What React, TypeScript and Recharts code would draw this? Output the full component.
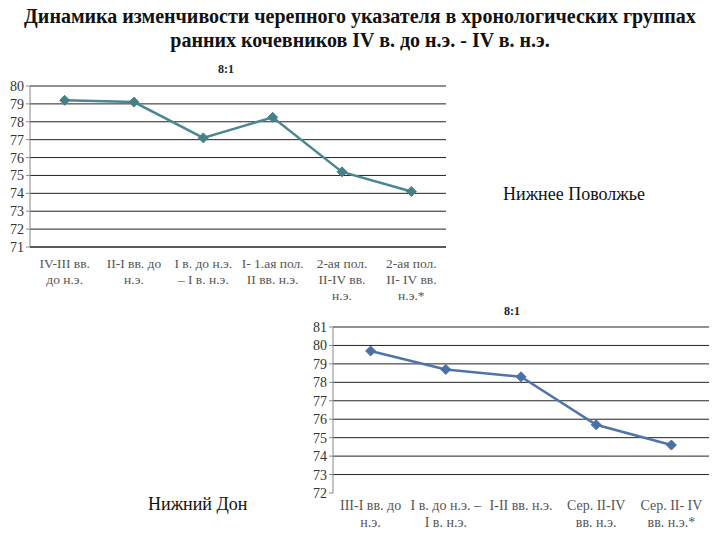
import React from "react";
import { LineChart, Line, XAxis, YAxis, CartesianGrid } from "recharts";

const topCategories: string[][] = [
  ["IV-III вв.", "до н.э."],
  ["II-I вв. до", "н.э."],
  ["I в. до н.э.", "– I в. н.э."],
  ["I- 1.ая пол.", "II вв. н.э."],
  ["2-ая пол.", "II-IV вв.", "н.э."],
  ["2-ая пол.", "II- IV вв.", "н.э.*"],
];
const topValues = [79.2, 79.1, 77.1, 78.25, 75.2, 74.1];
const topYTicks = [71, 72, 73, 74, 75, 76, 77, 78, 79, 80];

const bottomCategories: string[][] = [
  ["III-I вв. до", "н.э."],
  ["I в. до н.э. –", "I в. н.э."],
  ["I-II вв. н.э."],
  ["Сер. II-IV", "вв. н.э."],
  ["Сер. II- IV", "вв. н.э.*"],
];
const bottomValues = [79.7, 78.7, 78.3, 75.7, 74.6];
const bottomYTicks = [72, 73, 74, 75, 76, 77, 78, 79, 80, 81];

const topData = topValues.map((v, i) => ({ x: i + 0.5, v }));
const bottomData = bottomValues.map((v, i) => ({ x: i + 0.5, v }));

const SERIF = "'Liberation Serif', serif";

const Diamond = (color: string) => (props: any) => {
  const { cx, cy } = props;
  if (cx == null || cy == null) return null;
  const r = 5;
  return (
    <polygon
      points={`${cx},${cy - r} ${cx + r},${cy} ${cx},${cy + r} ${cx - r},${cy}`}
      fill={color}
      stroke={color}
      strokeWidth={1}
    />
  );
};

const makeTick = (cats: string[][], fontSize: number, lineH: number, firstDy: number) => (props: any) => {
  const { x, y, payload } = props;
  const idx = Math.floor(payload.value);
  const lines = cats[idx] || [];
  return (
    <text x={x} y={y} textAnchor="middle" style={{ fontFamily: SERIF, fontWeight: 400 }} fontSize={fontSize} fill="#555">
      {lines.map((l, i) => (
        <tspan key={i} x={x} dy={i === 0 ? firstDy : lineH}>
          {l}
        </tspan>
      ))}
    </text>
  );
};

export default function App() {
  const topTicksB = topCategories.map((_, i) => i).concat([topCategories.length]);
  const topTicksC = topCategories.map((_, i) => i + 0.5);
  const botTicksB = bottomCategories.map((_, i) => i).concat([bottomCategories.length]);
  const botTicksC = bottomCategories.map((_, i) => i + 0.5);
  return (
    <div style={{ position: "absolute", left: 0, top: 0, width: 720, height: 540, background: "#fff", fontFamily: SERIF }}>
      <div
        style={{
          position: "absolute",
          left: 0,
          top: 4,
          width: 720,
          textAlign: "center",
          fontWeight: "bold",
          fontSize: 20,
          lineHeight: "24px",
          color: "#111",
        }}
      >
        Динамика изменчивости черепного указателя в хронологических группах
        <br />
        ранних кочевников IV в. до н.э. - IV в. н.э.
      </div>

      <div style={{ position: "absolute", left: 0, top: 60 }}>
        <LineChart width={460} height={254} data={topData} margin={{ top: 26, right: 14, left: 0, bottom: 14 }} style={{ fontFamily: SERIF }}>
          <CartesianGrid horizontal vertical={false} stroke="#222" strokeWidth={1} />
          <XAxis
            xAxisId="b"
            type="number"
            dataKey="x"
            domain={[0, topCategories.length]}
            ticks={topTicksB}
            tick={false}
            tickSize={5}
            height={5}
            stroke="#777"
            axisLine={{ stroke: "#222" }}
          />
          <XAxis
            xAxisId="c"
            type="number"
            dataKey="x"
            domain={[0, topCategories.length]}
            ticks={topTicksC}
            tick={makeTick(topCategories, 13.5, 16, 10)}
            tickLine={false}
            axisLine={false}
            height={48}
            tickMargin={0}
            interval={0}
          />
          <YAxis
            type="number"
            domain={[71, 80]}
            ticks={topYTicks}
            width={30}
            tickSize={4}
            tickMargin={2}
            stroke="#888"
            tick={{ fontSize: 14, fill: "#333", style: { fontFamily: SERIF } }}
            interval={0}
          />
          <Line
            xAxisId="c"
            type="linear"
            dataKey="v"
            stroke="#4a8790"
            strokeWidth={2.5}
            dot={Diamond("#468089")}
            isAnimationActive={false}
          />
        </LineChart>
      </div>
      <div style={{ position: "absolute", left: 218, top: 62, fontSize: 12, fontWeight: "bold", color: "#222" }}>8:1</div>

      <div style={{ position: "absolute", left: 300, top: 300 }}>
        <LineChart width={420} height={240} data={bottomData} margin={{ top: 27, right: 11, left: 0, bottom: 0 }} style={{ fontFamily: SERIF }}>
          <CartesianGrid
            horizontal
            vertical={false}
            stroke="#222"
            strokeWidth={1}
            horizontalValues={bottomYTicks.slice(1)}
          />
          <XAxis
            xAxisId="b"
            type="number"
            dataKey="x"
            domain={[0, bottomCategories.length]}
            ticks={botTicksB}
            tick={false}
            tickSize={4}
            height={5}
            stroke="#777"
            axisLine={false}
          />
          <XAxis
            xAxisId="c"
            type="number"
            dataKey="x"
            domain={[0, bottomCategories.length]}
            ticks={botTicksC}
            tick={makeTick(bottomCategories, 14, 17, 6)}
            tickLine={false}
            axisLine={false}
            height={42}
            tickMargin={0}
            interval={0}
          />
          <YAxis
            type="number"
            domain={[72, 81]}
            ticks={bottomYTicks}
            width={33}
            tickSize={4}
            tickMargin={2}
            stroke="#888"
            tick={{ fontSize: 14, fill: "#333", style: { fontFamily: SERIF } }}
            interval={0}
          />
          <Line
            xAxisId="c"
            type="linear"
            dataKey="v"
            stroke="#4f74ab"
            strokeWidth={2.5}
            dot={Diamond("#4a70a8")}
            isAnimationActive={false}
          />
        </LineChart>
      </div>
      <div style={{ position: "absolute", left: 504, top: 304, fontSize: 12, fontWeight: "bold", color: "#222" }}>8:1</div>

      <div style={{ position: "absolute", left: 503, top: 184, fontSize: 18, fontWeight: 400, color: "#111", fontFamily: SERIF }}>Нижнее Поволжье</div>
      <div style={{ position: "absolute", left: 148, top: 494, fontSize: 18, fontWeight: 400, color: "#111", fontFamily: SERIF }}>Нижний Дон</div>
    </div>
  );
}
